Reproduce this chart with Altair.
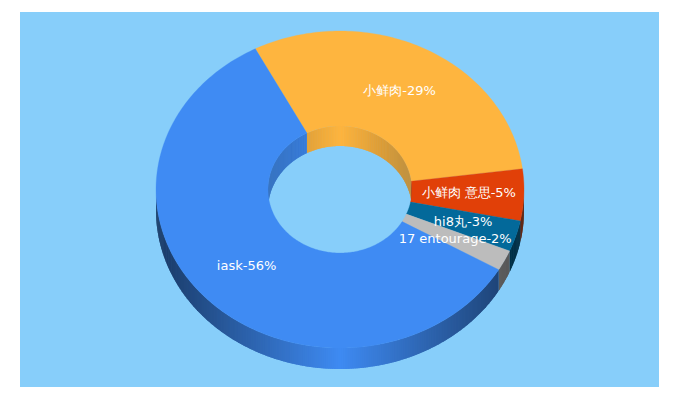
import math
import altair as alt

# Chart values
names = ["iask", "小鲜肉", "小鲜肉 意思", "hi8丸", "17 entourage"]
percents = [56, 29, 5, 3, 2]
colors = ["#3f8bf3", "#feb53f", "#e14008", "#03699a", "#bcbcbc"]
panel_color = "#87cefa"
start_angle = -27.4  # blue ends / orange starts here (clockwise from north)

# Drawing geometry, in plot-area pixels
W, H = 639, 375
cx, cy = 320, 177.5
rx, ry = 184, 158.5
irx, iry = 72, 63.5
depth = 21
inner_depth = 20
label_f = 0.7


def pt(a, rxx, ryy, dy=0.0):
    t = math.radians(a)
    return [cx + rxx * math.sin(t), cy - ryy * math.cos(t) + dy]


def shade(hexc, f):
    r, g, b = (int(hexc[i:i + 2], 16) for i in (1, 3, 5))
    return "#%02x%02x%02x" % (int(r * f), int(g * f), int(b * f))


def feat(ring, color):
    ring = ring + [ring[0]]
    return {"type": "Feature", "properties": {"color": color},
            "geometry": {"type": "Polygon", "coordinates": [ring]}}


def arc_steps(a0, a1, step=1.0):
    n = max(1, int(math.ceil((a1 - a0) / step)))
    return [a0 + (a1 - a0) * i / n for i in range(n + 1)]


total = sum(percents)
order = [1, 2, 3, 4, 0]  # clockwise from the orange slice
slices = []
a = start_angle
for i in order:
    sweep = 360 * percents[i] / total
    slices.append((i, a, a + sweep))
    a += sweep

walls, tops, labels = [], [], []


def strips(a0, a1, rxx, ryy, d, base):
    angs = arc_steps(a0, a1, 0.6)
    for s, e in zip(angs[:-1], angs[1:]):
        mid = pt((s + e) / 2, rxx, ryy)[0]
        f = 1 - 0.58 * abs(mid - cx) / rx
        # each strip runs a little under the next one, so no seam shows
        e2 = min(e + 0.5, a1)
        walls.append(feat([pt(s, rxx, ryy), pt(e2, rxx, ryy),
                           pt(e2, rxx, ryy, d), pt(s, rxx, ryy, d)], shade(base, f)))


for i, a0, a1 in slices:
    base = colors[i]
    for k in (-360, 0, 360):
        # back half of the hole's wall
        s, e = max(a0 + k, -90), min(a1 + k, 90)
        if s < e:
            strips(s, e, irx, iry, inner_depth, base)
        # front half of the outer wall
        s, e = max(a0 + k, 90), min(a1 + k, 270)
        if s < e:
            strips(s, e, rx, ry, depth, base)
    angs = arc_steps(a0, a1)
    ring = [pt(t, rx, ry) for t in angs] + [pt(t, irx, iry) for t in reversed(angs)]
    tops.append(feat(ring, base))
    mid = (a0 + a1) / 2
    x, y = pt(mid, rx * label_f, ry * label_f)
    labels.append({"text": f"{names[i]}-{percents[i]}%", "x": x, "y": y})

panel = [feat([[0, 0], [W, 0], [W, H], [0, H]], panel_color)]
proj = alt.Projection(type="identity", scale=1, translate=[0, 0])


def shapes(features, sw):
    return (
        alt.Chart(alt.Data(values=features))
        .mark_geoshape(strokeWidth=sw)
        .encode(
            color=alt.Color("properties.color:N", scale=None, legend=None),
            stroke=alt.Stroke("properties.color:N", scale=None, legend=None),
        )
        .project(**proj.to_dict())
    )


text = (
    alt.Chart(alt.Data(values=labels))
    .mark_text(color="white", fontSize=13, font="DejaVu Sans", align="center", baseline="middle")
    .encode(longitude="x:Q", latitude="y:Q", text="text:N")
    .project(**proj.to_dict())
)

chart = (
    alt.layer(shapes(panel, 0), shapes(walls, 0), shapes(tops, 0.3), text)
    .properties(
        width=W,
        height=H,
        padding={"left": 12, "top": 4, "right": 0, "bottom": 0},
        background="white",
    )
    .configure_view(stroke=None)
)

chart.save("out.html", embed_options={"renderer": "svg", "actions": False})
